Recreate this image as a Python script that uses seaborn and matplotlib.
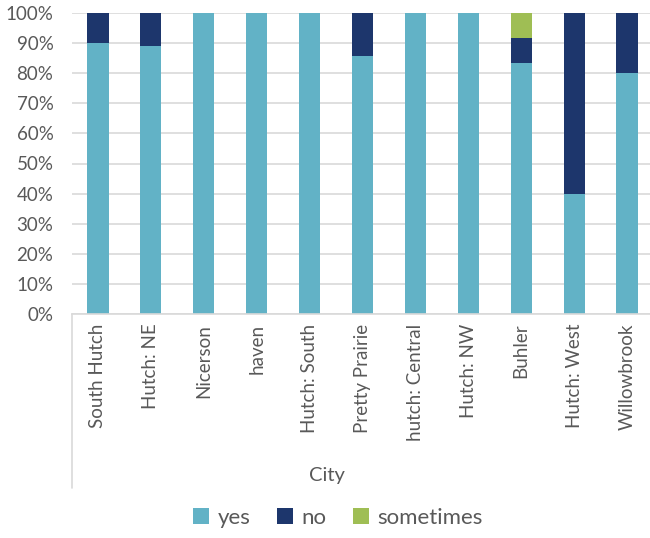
import matplotlib

matplotlib.use("Agg")

import matplotlib.pyplot as plt  # noqa: E402
import numpy as np  # noqa: E402
import pandas as pd  # noqa: E402
import seaborn as sns  # noqa: E402
from matplotlib.lines import Line2D  # noqa: E402
from matplotlib.patches import Patch  # noqa: E402
from matplotlib.ticker import PercentFormatter  # noqa: E402

# данные с картинки (доли в процентах)
cities = ["South Hutch", "Hutch: NE", "Nicerson", "haven", "Hutch: South",
          "Pretty Prairie", "hutch: Central", "Hutch: NW", "Buhler",
          "Hutch: West", "Willowbrook"]
yes = [90.0, 88.9, 100, 100, 100, 85.7, 100, 100, 83.3, 40.0, 80.0]
no = [10.0, 11.1, 0, 0, 0, 14.3, 0, 0, 8.3, 60.0, 20.0]
sometimes = [0, 0, 0, 0, 0, 0, 0, 0, 8.4, 0, 0]

series = ["yes", "no", "sometimes"]
colors = {"yes": "#62B2C6", "no": "#1D366C", "sometimes": "#9FBE54"}
text_color = "#595959"

sns.set_theme(style="white")
plt.rcParams["font.family"] = ["Lato", "DejaVu Sans"]

df = pd.DataFrame({"city": cities, "yes": yes, "no": no, "sometimes": sometimes})
# накопленные суммы для стека: рисуем сверху вниз
df["top_no"] = df["yes"] + df["no"]
df["top_all"] = df["top_no"] + df["sometimes"]

fig = plt.figure(figsize=(6.5, 5.38), dpi=100)
ax = fig.add_axes([71.5 / 650, 224 / 538, 582 / 650, 301 / 538])

for col, name in [("top_all", "sometimes"), ("top_no", "no"), ("yes", "yes")]:
    sns.barplot(data=df, x="city", y=col, color=colors[name], width=0.4,
                saturation=1, ax=ax, order=cities, linewidth=0)

ax.set_ylim(0, 100)
ax.set_xlim(-0.5, len(cities) - 0.5)
ax.yaxis.set_major_formatter(PercentFormatter(decimals=0))
ax.set_yticks(np.arange(0, 101, 10))
ax.yaxis.grid(True, color="#D9D9D9", linewidth=1.2)
ax.set_axisbelow(True)
for s in ["top", "right", "left"]:
    ax.spines[s].set_visible(False)
ax.spines["bottom"].set_color("#D9D9D9")
ax.spines["bottom"].set_linewidth(1.2)

ax.tick_params(axis="y", length=0, pad=13, labelsize=13.5, labelcolor=text_color)
ax.tick_params(axis="x", length=0, pad=7, labelsize=13.5, labelcolor=text_color,
               rotation=90)
ax.set_xlabel("")
ax.set_ylabel("")

# линия слева у подписей категорий
fig.add_artist(Line2D([71.5 / 650, 71.5 / 650], [224 / 538, 50 / 538],
                      color="#D9D9D9", linewidth=1.2))

fig.text(327 / 650, 1 - 475 / 538, "City", ha="center", va="center",
         fontsize=14.5, color=text_color)

handles = [Patch(facecolor=colors[n], edgecolor="none") for n in series]
fig.legend(handles, series, loc="center", bbox_to_anchor=(338 / 650, 1 - 518 / 538),
           ncol=3, frameon=False, fontsize=16, labelcolor=text_color,
           handlelength=0.7, handleheight=0.7, handletextpad=0.4, columnspacing=1.2)

fig.savefig("out.png", dpi=100)
